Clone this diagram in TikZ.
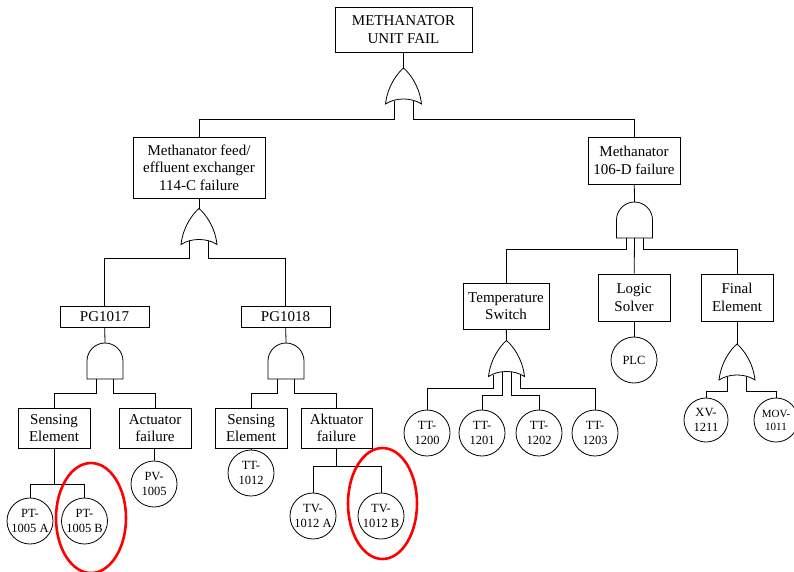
\documentclass[tikz,border=0pt]{standalone}
\usepackage{fontspec}
\setmainfont{Liberation Serif}
\begin{document}
\begin{tikzpicture}[x=1pt,y=-1pt,
  box/.style={draw, line width=0.8pt, rectangle, inner sep=0pt, align=center,
    font=\fontsize{15}{17.5}\selectfont},
  basic/.style={draw, line width=0.8pt, circle, inner sep=0pt, minimum size=46pt,
    align=center, font=\fontsize{12.5}{14.5}\selectfont},
  wire/.style={line width=0.8pt},
  gate/.style={draw, line width=0.8pt, line join=miter, fill=white},
  redmark/.style={draw=red, line width=2.6pt},
  % OR gate: pointed top at the pic origin, concave base 36pt below
  orgate/.pic={
    \draw[gate] (0,0) .. controls (6,5) and (16,18) .. (18,36)
      .. controls (8,29.3) and (-8,29.3) .. (-18,36)
      .. controls (-16,18) and (-6,5) .. (0,0) -- cycle;
    \coordinate (-tip) at (0,0);
    \coordinate (-l) at (-9.5,32.8);
    \coordinate (-r) at (9.5,32.8);
    \coordinate (-a) at (-13.5,34);
    \coordinate (-b) at (-4.5,31.3);
    \coordinate (-c) at (4.5,31.3);
    \coordinate (-d) at (13.5,34);
  },
  % AND gate: round top at the pic origin, flat base 36pt below
  andgate/.pic={
    \draw[gate] (-18,36) -- (-18,18) .. controls (-18,8.1) and (-9.9,0) .. (0,0)
      .. controls (9.9,0) and (18,8.1) .. (18,18) -- (18,36) -- cycle;
    \coordinate (-top) at (0,0);
    \coordinate (-l) at (-8.5,36);
    \coordinate (-m) at (0,36);
    \coordinate (-r) at (8.5,36);
  }
]
\useasboundingbox (0,0) rectangle (794,571);

% events
\node[box, minimum width=137pt, minimum height=45pt] (top) at (403.5,29.5) {METHANATOR\\UNIT FAIL};
\node[box, minimum width=132pt, minimum height=61pt] (mfe) at (199,167.5) {Methanator feed/\\effluent exchanger\\114-C failure};
\node[box, minimum width=92pt, minimum height=47pt] (m106) at (634,160.5) {Methanator\\106-D failure};
\node[box, minimum width=89pt, minimum height=21pt] (pg17) at (104.5,316.5) {PG1017};
\node[box, minimum width=89pt, minimum height=21pt] (pg18) at (285.5,316.5) {PG1018};
\node[box, minimum width=72pt, minimum height=40pt] (se1) at (54,428) {Sensing\\Element};
\node[box, minimum width=72pt, minimum height=40pt] (af1) at (155,428) {Actuator\\failure};
\node[box, minimum width=72pt, minimum height=40pt] (se2) at (251,428) {Sensing\\Element};
\node[box, minimum width=71pt, minimum height=40pt] (af2) at (336.5,428) {Aktuator\\failure};
\node[box, minimum width=86pt, minimum height=46pt] (ts) at (506,306) {Temperature\\Switch};
\node[box, minimum width=72pt, minimum height=47pt] (ls) at (634,297.5) {Logic\\Solver};
\node[box, minimum width=72pt, minimum height=47pt] (fe) at (737,297.5) {Final\\Element};

% basic events
\node[basic] (pt5a) at (30,521) {PT-\\1005 A};
\node[basic] (pt5b) at (84.5,521) {PT-\\1005 B};
\node[basic] (pv5) at (154,484) {PV-\\1005};
\node[basic] (tt12) at (251,473) {TT-\\1012};
\node[basic] (tv12a) at (313,516) {TV-\\1012 A};
\node[basic] (tv12b) at (381,516) {TV-\\1012 B};
\node[basic] (tt1200) at (427,433) {TT-\\1200};
\node[basic] (tt1201) at (482,433) {TT-\\1201};
\node[basic] (tt1202) at (539,433) {TT-\\1202};
\node[basic] (tt1203) at (595,433) {TT-\\1203};
\node[basic] (plc) at (634,360) {PLC};
\node[basic, minimum size=44pt] (xv) at (706,420) {XV-\\1211};
\node[basic, minimum size=44pt, font=\fontsize{11}{13}\selectfont] (mov) at (776,420) {MOV-\\1011};

% gates
\pic (g1) at (403.5,68) {orgate};
\pic (g2) at (199,208.5) {orgate};
\pic (g3) at (105,343) {andgate};
\pic (g4) at (286,343) {andgate};
\pic (g5) at (634.5,202) {andgate};
\pic (g6) at (506.5,340.5) {orgate};
\pic (g7) at (737,344) {orgate};

% connectors
\draw[wire] (top) -- (g1-tip);
\draw[wire] (g1-l) -- (g1-l |- 0,119) -| (mfe.north);
\draw[wire] (g1-r) -- (g1-r |- 0,119) -| (m106.north);

\draw[wire] (mfe) -- (g2-tip);
\draw[wire] (g2-l) -- (g2-l |- 0,258) -| (pg17.north);
\draw[wire] (g2-r) -- (g2-r |- 0,258) -| (pg18.north);

\draw[wire] (pg17) -- (g3-top);
\draw[wire] (g3-l) -- (g3-l |- 0,393) -| (se1.north);
\draw[wire] (g3-r) -- (g3-r |- 0,393) -| (af1.north);
\draw[wire] (pg18) -- (g4-top);
\draw[wire] (g4-l) -- (g4-l |- 0,393) -| (se2.north);
\draw[wire] (g4-r) -- (g4-r |- 0,393) -| (af2.north);

\draw[wire] (se1) -- (se1.south |- 0,484);
\draw[wire] (pt5a) -- (pt5a.north |- 0,484) -- (pt5b.north |- 0,484) -- (pt5b);
\draw[wire] (af1) -- (pv5);
\draw[wire] (se2) -- (tt12);
\draw[wire] (af2) -- (af2.south |- 0,466);
\draw[wire] (tv12a) -- (tv12a.north |- 0,466) -- (tv12b.north |- 0,466) -- (tv12b);

\draw[wire] (m106) -- (g5-top);
\draw[wire] (g5-l) -- (g5-l |- 0,249) -| (ts.north);
\draw[wire] (g5-m) -- (ls);
\draw[wire] (g5-r) -- (g5-r |- 0,249) -| (fe.north);

\draw[wire] (ts) -- (g6-tip);
\draw[wire] (g6-a) -- (g6-a |- 0,388) -| (tt1200.north);
\draw[wire] (g6-b) -- (g6-b |- 0,395) -| (tt1201.north);
\draw[wire] (g6-c) -- (g6-c |- 0,395) -| (tt1202.north);
\draw[wire] (g6-d) -- (g6-d |- 0,388) -| (tt1203.north);

\draw[wire] (ls) -- (plc);
\draw[wire] (fe) -- (g7-tip);
\draw[wire] (g7-l) -- (g7-l |- 0,391) -| (xv.north);
\draw[wire] (g7-r) -- (g7-r |- 0,391) -| (mov.north);

% highlighted redundant components
\draw[redmark] (91,518) ellipse [x radius=35pt, y radius=55pt];
\draw[redmark] (382.5,503.5) ellipse [x radius=34.5pt, y radius=55.5pt];
\end{tikzpicture}
\end{document}
